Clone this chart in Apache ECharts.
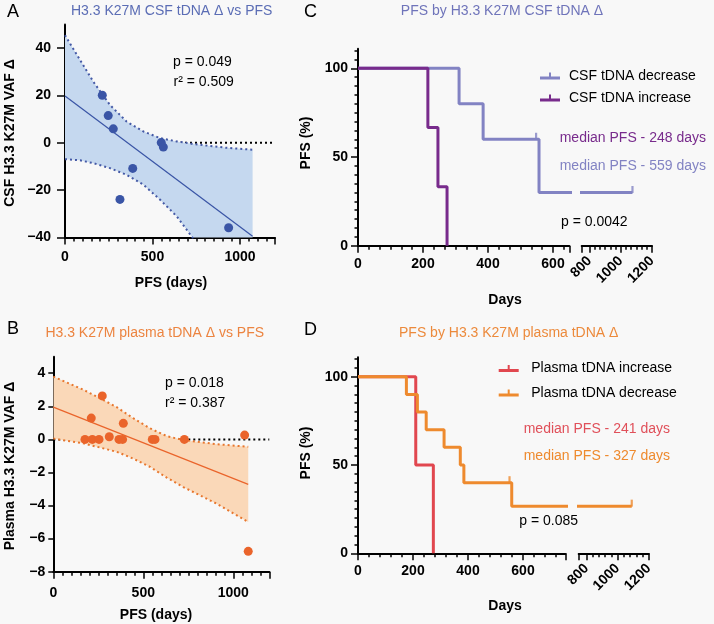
<!DOCTYPE html>
<html><head><meta charset="utf-8">
<script src="https://cdn.jsdelivr.net/npm/echarts@6/dist/echarts.min.js"></script>
<style>html,body{margin:0;padding:0;background:#f8f8f8}#c{width:714px;height:624px}</style>
</head><body><div id="c"></div>
<script>
// ---------------- Panel A: CSF tDNA change vs PFS ----------------
const csfPFS = [213, 247, 276, 550, 562, 387, 314, 935];
const csfVAF = [20.1, 11.5, 5.9, 0.1, -1.8, -10.8, -23.9, -35.9];
const csfFitX = [0, 1072];
const csfFitY = [19.8, -39.5];
const csfBandX = [0, 86, 162, 257, 352, 448, 543, 638, 733, 828, 924, 1072];
const csfBandUpper = [45.5, 35, 25.8, 16, 9, 4.8, 2, 0.6, -0.5, -1.3, -2.1, -2.9];
const csfBandLower = [-6.9, -7.4, -8.6, -10.7, -13.5, -17.7, -24, -31, -40.5, -50.2, -60.3, -76.1];
const csfYLabels = [-40, -20, 0, 20, 40];
const pfsXLabels = [0, 500, 1000];

// ---------------- Panel B: plasma tDNA change vs PFS ----------------
const plasmaPFS = [176, 217, 254, 311, 272, 211, 389, 365, 385, 550, 565, 728, 1063, 1083];
const plasmaVAF = [0, 0, 0, 0.16, 2.63, 1.29, 0.97, 0, 0, 0, 0, 0, 0.26, -6.77];
const plasmaFitX = [0, 1083];
const plasmaFitY = [1.95, -2.72];
const plasmaBandX = [0, 167, 259, 352, 444, 537, 630, 722, 908, 1083];
const plasmaBandUpper = [3.8, 3.0, 2.49, 1.95, 1.28, 0.67, 0.2, -0.04, -0.29, -0.45];
const plasmaBandLower = [0.05, -0.24, -0.49, -0.75, -1.16, -1.66, -2.31, -2.88, -3.89, -5.0];
const plasmaYLabels = [-8, -6, -4, -2, 0, 2, 4];

// ---------------- Panel C: KM by CSF tDNA change ----------------
const csfDecTime = [0, 311, 385, 557, 1075];
const csfDecSurv = [100, 80, 60, 30, 30];
const csfDecCensorTime = [548, 1075];
const csfDecCensorSurv = [60, 30];
const csfIncTime = [0, 215, 246, 274];
const csfIncSurv = [100, 66.7, 33.3, 0];

// ---------------- Panel D: KM by plasma tDNA change ----------------
const plIncTime = [0, 210, 274];
const plIncSurv = [100, 50, 0];
const plDecTime = [0, 176, 216, 248, 313, 372, 385, 559, 1091];
const plDecSurv = [100, 90, 80, 70, 60, 50, 40, 26.7, 26.7];
const plDecCensorTime = [551, 1091];
const plDecCensorSurv = [40, 26.7];

const kmYLabels = [0, 50, 100];
const kmXLabelsLeft = [0, 200, 400, 600];
const kmXLabelsRight = [800, 1000, 1200];

// ---------------- helpers ----------------
const FONT = '"Liberation Sans", Arial, Helvetica, sans-serif';
const pairs = (xs, ys) => xs.map((x, i) => [x, ys[i]]);
function steps(a, b, step, exclude) {
  const r = [];
  for (let k = 0; ; k++) { const v = +(a + k * step).toFixed(3); if (v > b + 1e-6) break; if (!exclude.some(e => Math.abs(e - v) < 1e-3)) r.push(v); }
  return r;
}
const minus = v => String(v).replace('-', '\u2212');

const grids = [], xAxes = [], yAxes = [], series = [];

function addGrid(rect, xc, yc) {
  const gi = grids.length;
  grids.push(Object.assign({ outerBoundsMode: 'none', containLabel: false }, rect));
  grids.push(Object.assign({ outerBoundsMode: 'none', containLabel: false }, rect));
  const lab = (c) => ({
    show: !!c.labels, customValues: c.labels || [], margin: c.margin, rotate: c.rotate || 0,
    fontSize: 14, fontWeight: 'bold', fontFamily: FONT, color: '#000', formatter: minus
  });
  xAxes.push({
    gridIndex: gi, type: 'value', min: xc.min, max: xc.max, position: 'bottom',
    axisLine: { show: true, onZero: false, lineStyle: { color: '#000', width: 2 } },
    axisTick: { show: true, customValues: xc.major, length: xc.majorLen || 7, lineStyle: { color: '#000', width: 1.5 } },
    axisLabel: lab(xc), splitLine: { show: false }
  });
  xAxes.push({
    gridIndex: gi + 1, type: 'value', min: xc.min, max: xc.max, position: 'bottom',
    axisLine: { show: false, onZero: false },
    axisTick: { show: !!xc.minor, customValues: xc.minor || [], length: 4, lineStyle: { color: '#000', width: 1.5 } },
    axisLabel: { show: false }, splitLine: { show: false }
  });
  if (yc.hidden) {
    yAxes.push({ gridIndex: gi, type: 'value', min: yc.min, max: yc.max, show: false, splitLine: { show: false } });
    yAxes.push({ gridIndex: gi + 1, type: 'value', min: yc.min, max: yc.max, show: false, splitLine: { show: false } });
  } else {
    yAxes.push({
      gridIndex: gi, type: 'value', min: yc.min, max: yc.max, position: 'left',
      axisLine: { show: true, onZero: false, lineStyle: { color: '#000', width: 2 } },
      axisTick: { show: true, customValues: yc.major, length: yc.majorLen || 7, lineStyle: { color: '#000', width: 1.5 } },
      axisLabel: lab(yc), splitLine: { show: false }
    });
    yAxes.push({
      gridIndex: gi + 1, type: 'value', min: yc.min, max: yc.max, position: 'left',
      axisLine: { show: false, onZero: false },
      axisTick: { show: !!yc.minor, customValues: yc.minor || [], length: 3.5, lineStyle: { color: '#000', width: 1.5 } },
      axisLabel: { show: false }, splitLine: { show: false }
    });
  }
  return gi;
}

function regressionPanel(gi, d, col) {
  const ax = { xAxisIndex: gi, yAxisIndex: gi, symbol: 'none', silent: true, animation: false };
  // dotted reference line at zero (hidden under the band)
  series.push(Object.assign({ type: 'line', data: [[0, 0], [1200, 0]], z: 1,
    lineStyle: { color: '#000', width: 2, type: [2, 3] } }, ax));
  // 95% confidence band as a polygon drawn through the axes' scales
  series.push({
    type: 'custom', xAxisIndex: gi, yAxisIndex: gi, z: 2, silent: true, animation: false,
    data: pairs(d.bx, d.hi),
    renderItem: (params, api) => {
      if (params.dataIndex !== 0) return null;
      const pts = [];
      d.bx.forEach((x, i) => pts.push(api.coord([x, d.hi[i]])));
      for (let i = d.bx.length - 1; i >= 0; i--) pts.push(api.coord([d.bx[i], d.lo[i]]));
      const cs = params.coordSys;
      return { type: 'polygon', shape: { points: pts }, style: { fill: col.band },
        clipPath: { type: 'rect', shape: { x: cs.x, y: cs.y, width: cs.width, height: cs.height } } };
    }
  });
  series.push(Object.assign({ type: 'line', data: pairs(d.bx, d.hi), z: 3,
    lineStyle: { color: col.dot, width: 2, type: [2, 3] } }, ax));
  series.push(Object.assign({ type: 'line', data: pairs(d.bx, d.lo), z: 3,
    lineStyle: { color: col.dot, width: 2, type: [2, 3] } }, ax));
  series.push(Object.assign({ type: 'line', data: pairs(d.fx, d.fy), z: 4,
    lineStyle: { color: col.pt, width: 1.2 } }, ax));
  series.push({ type: 'scatter', xAxisIndex: gi, yAxisIndex: gi, data: pairs(d.px, d.py), z: 5,
    symbol: 'circle', symbolSize: 9, itemStyle: { color: col.pt, opacity: 1 }, animation: false });
}

function kmCurve(gis, name, t, s, ct, cs, col) {
  gis.forEach(gi => {
    series.push({ type: 'line', name, xAxisIndex: gi, yAxisIndex: gi, step: 'end', data: pairs(t, s),
      symbol: 'none', lineStyle: { color: col, width: 3 }, itemStyle: { color: col }, z: 3, animation: false });
    if (ct) series.push({ type: 'scatter', name, xAxisIndex: gi, yAxisIndex: gi, data: pairs(ct, cs),
      symbol: 'rect', symbolSize: [2.2, 7], symbolOffset: [0, -3], itemStyle: { color: col }, z: 4, animation: false });
  });
}

// ---------------- axes ----------------
const gA = addGrid({ left: 65, top: 24.5, width: 210, height: 213 },
  { min: 0, max: 1200, labels: pfsXLabels, major: [0, 500, 1000, 1200], minor: steps(0, 1200, 50, [0, 500, 1000, 1200]), margin: 13 },
  { min: -40, max: 50, labels: csfYLabels, major: csfYLabels, margin: 14, majorLen: 8 });
const gB = addGrid({ left: 53.3, top: 356.7, width: 216, height: 215 },
  { min: 0, max: 1200, labels: pfsXLabels, major: [0, 500, 1000, 1200], minor: steps(0, 1200, 50, [0, 500, 1000, 1200]), margin: 14 },
  { min: -8, max: 5, labels: plasmaYLabels, major: plasmaYLabels, margin: 8, majorLen: 5 });
const kmY = { min: 0, max: 111, labels: kmYLabels, major: kmYLabels, minor: steps(0, 110, 5, kmYLabels), margin: 10 };
const gCL = addGrid({ left: 358, top: 48.8, width: 211.25, height: 196.9 },
  { min: 0, max: 650, labels: kmXLabelsLeft, major: [0, 200, 400, 600, 650], minor: steps(0, 650, 200 / 6, [0, 200, 400, 600]), margin: 11 },
  kmY);
const gCR = addGrid({ left: 581.7, top: 48.8, width: 70.3, height: 196.9 },
  { min: 750, max: 1200, labels: kmXLabelsRight, major: [750, 800, 1000, 1200], minor: steps(800, 1200, 200 / 6, [800, 1000, 1200]), margin: 13, rotate: 45 },
  { min: 0, max: 111, hidden: true });
const gDL = addGrid({ left: 358, top: 357.3, width: 207.35, height: 196 },
  { min: 0, max: 754, labels: kmXLabelsLeft, major: [0, 200, 400, 600, 754], minor: steps(0, 754, 40, [0, 200, 400, 600]), margin: 11 },
  kmY);
const gDR = addGrid({ left: 578.7, top: 357.3, width: 70, height: 196 },
  { min: 750, max: 1200, labels: kmXLabelsRight, major: [750, 800, 1000, 1200], minor: steps(800, 1200, 40, [800, 1000, 1200]), margin: 13, rotate: 45 },
  { min: 0, max: 111, hidden: true });

// ---------------- series ----------------
regressionPanel(gA, { bx: csfBandX, hi: csfBandUpper, lo: csfBandLower, fx: csfFitX, fy: csfFitY, px: csfPFS, py: csfVAF },
  { band: '#c5d8ef', dot: '#4459a6', pt: '#3a55a6' });
regressionPanel(gB, { bx: plasmaBandX, hi: plasmaBandUpper, lo: plasmaBandLower, fx: plasmaFitX, fy: plasmaFitY, px: plasmaPFS, py: plasmaVAF },
  { band: '#fad8b8', dot: '#e8772e', pt: '#ea642b' });

const cDec = '#8283c3', cInc = '#782b8c', dInc = '#e1474f', dDec = '#ee8a2e';
kmCurve([gCL, gCR], 'CSF tDNA decrease', csfDecTime, csfDecSurv, csfDecCensorTime, csfDecCensorSurv, cDec);
kmCurve([gCL, gCR], 'CSF tDNA increase', csfIncTime, csfIncSurv, null, null, cInc);
kmCurve([gDL, gDR], 'Plasma tDNA increase', plIncTime, plIncSurv, null, null, dInc);
kmCurve([gDL, gDR], 'Plasma tDNA decrease', plDecTime, plDecSurv, plDecCensorTime, plDecCensorSurv, dDec);

// ---------------- texts ----------------
function txt(text, x, y, opt) {
  opt = opt || {};
  const align = opt.align || 'left';
  return { type: 'text', x, y, rotation: opt.rot || 0, silent: true, z: 10,
    style: { text, fill: opt.color || '#000', font: (opt.weight || 'normal') + ' ' + (opt.size || 14) + 'px ' + FONT,
      align, verticalAlign: 'middle', textAlign: align, textVerticalAlign: 'middle' } };
}
const graphics = [
  txt('A', 7, 12, { size: 18 }),
  txt('H3.3 K27M CSF tDNA \u0394 vs PFS', 171.7, 11, { align: 'center', color: '#5b6db5' }),
  txt('p = 0.049', 173, 62),
  txt('r\u00B2 = 0.509', 173.5, 82.5),
  txt('PFS (days)', 171, 283.5, { align: 'center', weight: 'bold' }),
  txt('CSF H3.3 K27M VAF \u0394', 10, 133, { align: 'center', weight: 'bold', rot: Math.PI / 2 }),

  txt('B', 7, 329, { size: 18 }),
  txt('H3.3 K27M plasma tDNA \u0394 vs PFS', 154.7, 333.5, { align: 'center', color: '#ec8440' }),
  txt('p = 0.018', 165, 383),
  txt('r\u00B2 = 0.387', 165, 403.5),
  txt('PFS (days)', 156, 615, { align: 'center', weight: 'bold' }),
  txt('Plasma H3.3 K27M VAF \u0394', 10, 466, { align: 'center', weight: 'bold', rot: Math.PI / 2 }),

  txt('C', 304, 12, { size: 18 }),
  txt('PFS by H3.3 K27M CSF tDNA \u0394', 502, 11, { align: 'center', color: '#6f74ba' }),
  txt('median PFS - 248 days', 559.7, 138.5, { color: cInc }),
  txt('median PFS - 559 days', 559.7, 166, { color: cDec }),
  txt('p = 0.0042', 561, 222.5),
  txt('Days', 505, 300, { align: 'center', weight: 'bold' }),
  txt('PFS (%)', 306.5, 143, { align: 'center', weight: 'bold', rot: Math.PI / 2 }),

  txt('D', 304, 330, { size: 18 }),
  txt('PFS by H3.3 K27M plasma tDNA \u0394', 508.7, 333.5, { align: 'center', color: '#ec8a3c' }),
  txt('median PFS - 241 days', 523.7, 429, { color: '#e0505a' }),
  txt('median PFS - 327 days', 523.7, 455.7, { color: dDec }),
  txt('p = 0.085', 519.3, 521),
  txt('Days', 505, 606, { align: 'center', weight: 'bold' }),
  txt('PFS (%)', 306.5, 453, { align: 'center', weight: 'bold', rot: Math.PI / 2 })
];

const ICON = 'path://M0,4L20,4L20,7L0,7Z M9,0L11,0L11,4L9,4Z';
const legendText = { fontSize: 14, fontFamily: FONT, color: '#000', lineHeight: 14 };

const chart = echarts.init(document.getElementById('c'), null, { renderer: 'canvas' });
chart.setOption({
  backgroundColor: '#f8f8f8',
  animation: false,
  grid: grids, xAxis: xAxes, yAxis: yAxes, series,
  legend: [
    { orient: 'vertical', left: 540, top: 69, padding: 0, itemWidth: 20, itemHeight: 7, itemGap: 8, selectedMode: false,
      textStyle: Object.assign({ padding: [0, 0, 0, 4] }, legendText),
      data: [{ name: 'CSF tDNA decrease', icon: ICON }, { name: 'CSF tDNA increase', icon: ICON }] },
    { orient: 'vertical', left: 498.7, top: 361.5, padding: 0, itemWidth: 21, itemHeight: 7, itemGap: 10.4, selectedMode: false,
      textStyle: Object.assign({ padding: [0, 0, 0, 7] }, legendText),
      data: [{ name: 'Plasma tDNA increase', icon: ICON }, { name: 'Plasma tDNA decrease', icon: ICON }] }
  ],
  graphic: graphics
});
</script></body></html>
